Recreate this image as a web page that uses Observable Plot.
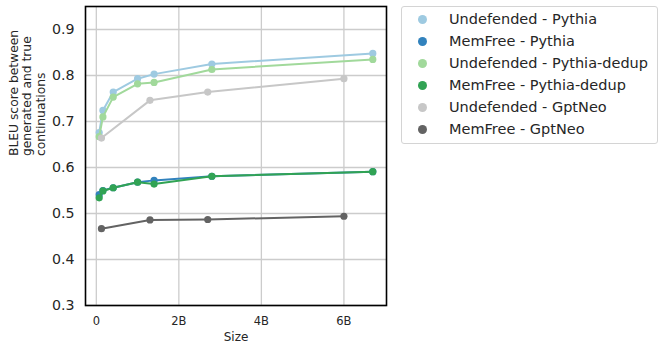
<!DOCTYPE html>
<html><head><meta charset="utf-8">
<script src="https://cdn.jsdelivr.net/npm/d3@7"></script>
<script src="https://cdn.jsdelivr.net/npm/@observablehq/plot@0.6"></script>
<style>
body{margin:0;background:#fff;font-family:"DejaVu Sans",sans-serif;}
#wrap{position:relative;width:665px;height:351px;overflow:hidden;}
#legend{position:absolute;left:401px;top:6px;width:257px;height:138px;border:1px solid #d4d4d4;border-radius:3px;box-sizing:border-box;background:#fff;}
.sw{position:absolute;width:9px;height:9px;border-radius:50%;}
.lab{position:absolute;font-size:14.5px;color:#262626;white-space:nowrap;line-height:22px;height:22px;}
</style>
</head><body>
<div id="wrap"><div id="chart"></div><div id="legend"></div></div>
<script>
const pythiaSizes = [0.07, 0.16, 0.41, 1.0, 1.4, 2.8, 6.7];
const gptneoSizes = [0.125, 1.3, 2.7, 6.0];
const undefPythia = [0.676, 0.724, 0.764, 0.793, 0.803, 0.825, 0.848];
const memfreePythia = [0.541, 0.550, 0.556, 0.568, 0.572, 0.581, 0.591];
const undefDedup = [0.667, 0.710, 0.753, 0.782, 0.785, 0.813, 0.835];
const memfreeDedup = [0.534, 0.549, 0.556, 0.568, 0.564, 0.581, 0.591];
const undefGptNeo = [0.664, 0.746, 0.764, 0.793];
const memfreeGptNeo = [0.467, 0.486, 0.487, 0.494];
const seriesNames = ["Undefended - Pythia", "MemFree - Pythia", "Undefended - Pythia-dedup", "MemFree - Pythia-dedup", "Undefended - GptNeo", "MemFree - GptNeo"];
const seriesColors = ["#9ecae1", "#3182bd", "#a1d99b", "#31a354", "#c7c7c7", "#636363"];
const xTicks = [0, 2, 4, 6];
const yTicks = [0.3, 0.4, 0.5, 0.6, 0.7, 0.8, 0.9];

const seriesData = [
  [pythiaSizes, undefPythia],
  [pythiaSizes, memfreePythia],
  [pythiaSizes, undefDedup],
  [pythiaSizes, memfreeDedup],
  [gptneoSizes, undefGptNeo],
  [gptneoSizes, memfreeGptNeo]
].map(([xs, ys], i) => xs.map((x, j) => ({size: x, bleu: ys[j], series: seriesNames[i]})));

const marks = [
  Plot.gridX(xTicks, {stroke: "#cccccc", strokeOpacity: 1, strokeWidth: 1.3}),
  Plot.gridY(yTicks, {stroke: "#cccccc", strokeOpacity: 1, strokeWidth: 1.3}),
  Plot.axisX(xTicks, {tickSize: 0, tickPadding: 11, fontSize: 11.5, fill: "#262626", tickFormat: d => d === 0 ? "0" : d + "B", label: null}),
  Plot.axisY(yTicks, {tickSize: 0, tickPadding: 11, fontSize: 14.2, fill: "#262626", tickFormat: d => d.toFixed(1), label: null})
];
seriesData.forEach((data, i) => {
  marks.push(Plot.line(data, {x: "size", y: "bleu", stroke: seriesColors[i], strokeWidth: 2}));
  marks.push(Plot.dot(data, {x: "size", y: "bleu", fill: seriesColors[i], r: 3.6, stroke: "none"}));
});
marks.push(Plot.frame({stroke: "black", strokeWidth: 1.6}));
marks.push(Plot.text(["Size"], {frameAnchor: "bottom", dy: 32, lineAnchor: "middle", fontSize: 12, fill: "#262626"}));
marks.push(Plot.text(["BLEU score between\ngenerated and true\ncontinuations"], {frameAnchor: "left", dx: -58.5, rotate: -90, lineAnchor: "middle", lineHeight: 1.12, fontSize: 12.3, fill: "#262626"}));

const chart = Plot.plot({
  width: 665, height: 351,
  marginLeft: 85, marginRight: 279, marginTop: 6, marginBottom: 46,
  style: {fontFamily: "DejaVu Sans, sans-serif", background: "#fff", overflow: "visible"},
  x: {domain: [-0.262, 7.032], axis: null},
  y: {domain: [0.3, 0.95], axis: null},
  marks
});
document.getElementById("chart").appendChild(chart);

const legend = document.getElementById("legend");
seriesNames.forEach((name, i) => {
  const sw = document.createElement("div");
  sw.className = "sw";
  sw.style.background = seriesColors[i];
  sw.style.left = "15.5px";
  sw.style.top = (7.8 + 22 * i) + "px";
  legend.appendChild(sw);
  const lab = document.createElement("div");
  lab.className = "lab";
  lab.textContent = name;
  lab.style.left = "47px";
  lab.style.top = (1.3 + 22 * i) + "px";
  legend.appendChild(lab);
});
</script>
</body></html>
